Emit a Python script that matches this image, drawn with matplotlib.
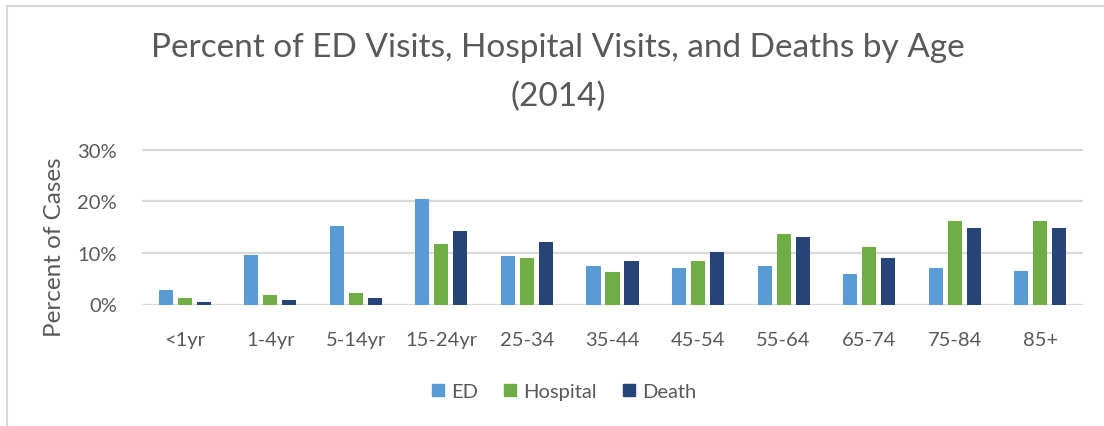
import matplotlib
matplotlib.use("Agg")
import matplotlib.pyplot as plt
from matplotlib.lines import Line2D
from matplotlib.ticker import FuncFormatter
import numpy as np

categories = ["<1yr", "1-4yr", "5-14yr", "15-24yr", "25-34", "35-44",
              "45-54", "55-64", "65-74", "75-84", "85+"]
ed = [2.8, 9.6, 15.2, 20.4, 9.5, 7.5, 7.0, 7.5, 5.9, 7.0, 6.5]
hospital = [1.3, 1.8, 2.3, 11.7, 9.0, 6.4, 8.5, 13.7, 11.1, 16.2, 16.2]
death = [0.4, 0.8, 1.3, 14.3, 12.1, 8.5, 10.1, 13.2, 9.0, 14.8, 14.8]
series_names = ["ED", "Hospital", "Death"]
yticks = [0, 10, 20, 30]

colors = ["#5B9BD5", "#70AD47", "#264478"]
text_color = "#595959"
grid_color = "#D9D9D9"
FONT = ["Lato", "DejaVu Sans"]

W, H = 1104, 427
fig = plt.figure(figsize=(W / 100, H / 100), dpi=100)

x0, x1 = 142, 1083
y_zero, px_per_pct = 305.5, 5.15
ytop = 30.5
ax = fig.add_axes([x0 / W, 1 - y_zero / H, (x1 - x0) / W, ytop * px_per_pct / H])

x = np.arange(len(categories))
pitch = 0.222
bw = 0.165
for i, (vals, c, name) in enumerate(zip([ed, hospital, death], colors, series_names)):
    ax.bar(x + (i - 1) * pitch, vals, width=bw, color=c, label=name, zorder=3)

ax.set_xlim(-0.5, len(categories) - 0.5)
ax.set_ylim(0, ytop)
ax.set_yticks(yticks)
ax.yaxis.set_major_formatter(FuncFormatter(lambda v, p: f"{v:.0f}%"))
ax.set_xticks(x)
ax.set_xticklabels(categories)
ax.grid(axis="y", color=grid_color, linewidth=1.6, zorder=0)
ax.set_axisbelow(True)
for s in ax.spines.values():
    s.set_visible(False)
ax.tick_params(axis="both", length=0, colors=text_color, labelsize=14.5)
ax.tick_params(axis="x", pad=19)
ax.tick_params(axis="y", pad=18)
for lab in ax.get_xticklabels() + ax.get_yticklabels():
    lab.set_family(FONT)

ax.set_ylabel("Percent of Cases", color=text_color, fontsize=17.5, family=FONT)
ax.yaxis.set_label_coords(-(x0 - 55) / (x1 - x0), 0.37)
ax.yaxis.label.set_va("center")

fig.text(558 / W, 1 - 48 / H, "Percent of ED Visits, Hospital Visits, and Deaths by Age",
         ha="center", va="center", fontsize=24, color=text_color, family=FONT)
fig.text(558 / W, 1 - 97 / H, "(2014)",
         ha="center", va="center", fontsize=24, color=text_color, family=FONT)

handles = [Line2D([0], [0], marker="s", linestyle="none", markersize=9,
                  markerfacecolor=c, markeredgecolor=c) for c in colors]
fig.legend(handles, series_names, loc="center", bbox_to_anchor=(561 / W, 1 - 392 / H),
           ncol=3, frameon=False, handletextpad=0.05, columnspacing=1.0,
           handlelength=1.2, labelcolor=text_color,
           prop={"family": FONT, "size": 14.5})

# chart frame (left and top edges)
fig.add_artist(Line2D([6.5 / W, 6.5 / W], [0, 1 - 6.5 / H], transform=fig.transFigure,
                      color=grid_color, linewidth=1.5))
fig.add_artist(Line2D([6.5 / W, 1], [1 - 6.5 / H, 1 - 6.5 / H], transform=fig.transFigure,
                      color=grid_color, linewidth=1.5))

fig.savefig("out.png", dpi=100, facecolor="white")
